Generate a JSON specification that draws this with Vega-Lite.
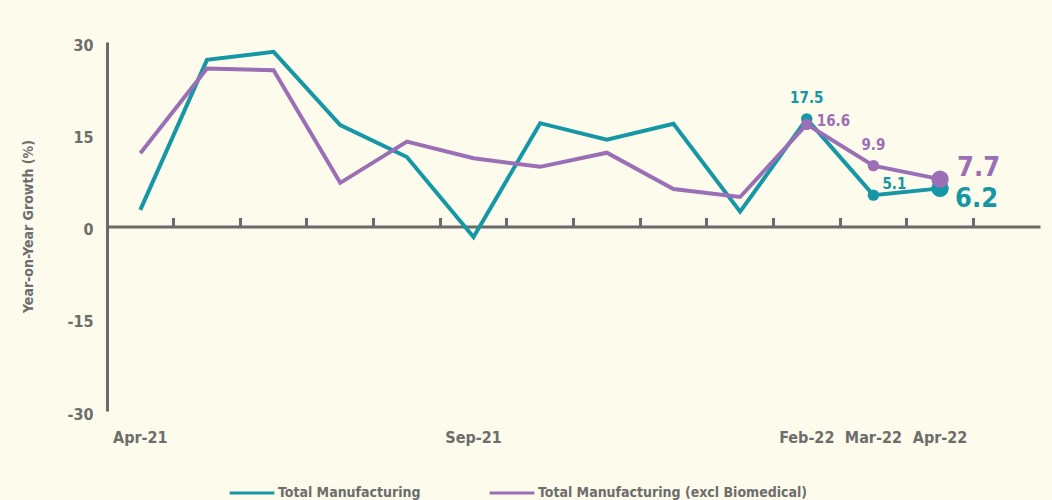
{
  "$schema": "https://vega.github.io/schema/vega-lite/v6.json",
  "width": 933,
  "height": 369,
  "autosize": "none",
  "padding": {"left": 107, "top": 42, "right": 12, "bottom": 89},
  "background": "#fdfbeb",
  "config": {
    "view": {"stroke": null},
    "font": "DejaVu Sans Condensed, Liberation Sans Narrow, sans-serif"
  },
  "data": {
    "values": [
      {"month": "Apr-21", "series": "Total Manufacturing", "value": 2.7},
      {"month": "May-21", "series": "Total Manufacturing", "value": 27.1},
      {"month": "Jun-21", "series": "Total Manufacturing", "value": 28.4},
      {"month": "Jul-21", "series": "Total Manufacturing", "value": 16.5},
      {"month": "Aug-21", "series": "Total Manufacturing", "value": 11.3},
      {"month": "Sep-21", "series": "Total Manufacturing", "value": -1.7},
      {"month": "Oct-21", "series": "Total Manufacturing", "value": 16.8},
      {"month": "Nov-21", "series": "Total Manufacturing", "value": 14.1},
      {"month": "Dec-21", "series": "Total Manufacturing", "value": 16.7},
      {"month": "Jan-22", "series": "Total Manufacturing", "value": 2.4},
      {"month": "Feb-22", "series": "Total Manufacturing", "value": 17.5},
      {"month": "Mar-22", "series": "Total Manufacturing", "value": 5.1},
      {"month": "Apr-22", "series": "Total Manufacturing", "value": 6.2},
      {"month": "Apr-21", "series": "Total Manufacturing (excl Biomedical)", "value": 11.9},
      {"month": "May-21", "series": "Total Manufacturing (excl Biomedical)", "value": 25.7},
      {"month": "Jun-21", "series": "Total Manufacturing (excl Biomedical)", "value": 25.4},
      {"month": "Jul-21", "series": "Total Manufacturing (excl Biomedical)", "value": 7.1},
      {"month": "Aug-21", "series": "Total Manufacturing (excl Biomedical)", "value": 13.8},
      {"month": "Sep-21", "series": "Total Manufacturing (excl Biomedical)", "value": 11.1},
      {"month": "Oct-21", "series": "Total Manufacturing (excl Biomedical)", "value": 9.7},
      {"month": "Nov-21", "series": "Total Manufacturing (excl Biomedical)", "value": 12.0},
      {"month": "Dec-21", "series": "Total Manufacturing (excl Biomedical)", "value": 6.1},
      {"month": "Jan-22", "series": "Total Manufacturing (excl Biomedical)", "value": 4.8},
      {"month": "Feb-22", "series": "Total Manufacturing (excl Biomedical)", "value": 16.6},
      {"month": "Mar-22", "series": "Total Manufacturing (excl Biomedical)", "value": 9.9},
      {"month": "Apr-22", "series": "Total Manufacturing (excl Biomedical)", "value": 7.7}
    ]
  },
  "encoding": {
    "y": {
      "field": "value",
      "type": "quantitative",
      "scale": {"domain": [-30, 30], "nice": false, "zero": false},
      "axis": {
        "values": [-30, -15, 0, 15, 30],
        "labelExpr": "'' + datum.value",
        "grid": false,
        "ticks": false,
        "domainColor": "#6a6a6a",
        "domainWidth": 3,
        "labelFont": "DejaVu Sans Condensed, Liberation Sans Narrow, sans-serif",
        "labelFontSize": 16,
        "labelFontWeight": "bold",
        "labelColor": "#6d6d6d",
        "labelPadding": 14,
        "labelBaseline": "middle",
        "labelOffset": 3,
        "title": "Year-on-Year Growth (%)",
        "titleFont": "DejaVu Sans Condensed, Liberation Sans Narrow, sans-serif",
        "titleFontSize": 14,
        "titleFontWeight": "bold",
        "titleColor": "#6d6d6d",
        "titleX": -72,
        "titleY": 184,
        "titleAnchor": "middle"
      }
    },
    "color": {
      "field": "series",
      "type": "nominal",
      "scale": {
        "domain": ["Total Manufacturing", "Total Manufacturing (excl Biomedical)"],
        "range": ["#1597a6", "#9b6fb5"]
      },
      "legend": null
    }
  },
  "layer": [
    {
      "mark": {"type": "line", "strokeWidth": 4},
      "encoding": {
        "x": {
          "field": "month",
          "type": "ordinal",
          "scale": {
            "type": "band",
            "paddingInner": 0,
            "paddingOuter": 0,
            "domain": ["Apr-21", "May-21", "Jun-21", "Jul-21", "Aug-21", "Sep-21", "Oct-21", "Nov-21", "Dec-21", "Jan-22", "Feb-22", "Mar-22", "Apr-22", "May-22"]
          },
          "axis": {
            "orient": "bottom",
            "offset": -184.5,
            "title": null,
            "labels": false,
            "bandPosition": 0,
            "ticks": true,
            "tickSize": -9,
            "tickWidth": 3,
            "tickColor": "#6a6a6a",
            "domainColor": "#6a6a6a",
            "domainWidth": 3,
            "grid": false
          }
        },
        "color": {
          "field": "series",
          "type": "nominal",
          "legend": {
            "orient": "none",
            "legendX": 121,
            "legendY": 427,
            "direction": "horizontal",
            "title": null,
            "symbolType": "stroke",
            "symbolStrokeWidth": 3,
            "symbolSize": 2000,
            "columnPadding": 62,
            "labelFont": "DejaVu Sans Condensed, Liberation Sans Narrow, sans-serif",
            "labelFontSize": 14,
            "labelFontWeight": "bold",
            "labelColor": "#6d6d6d",
            "labelOffset": 2,
            "labelLimit": 400
          }
        }
      }
    },
    {
      "transform": [{"filter": "datum.month == 'Feb-22' || datum.month == 'Mar-22'"}],
      "mark": {"type": "circle", "size": 130, "opacity": 1},
      "encoding": {
        "x": {
          "field": "month",
          "type": "ordinal",
          "axis": {
            "orient": "bottom",
            "title": null,
            "domain": false,
            "ticks": false,
            "grid": false,
            "labelPadding": 18,
            "labelFont": "DejaVu Sans Condensed, Liberation Sans Narrow, sans-serif",
            "labelFontSize": 16,
            "labelFontWeight": "bold",
            "labelColor": "#6d6d6d",
            "labelAngle": 0,
            "labelExpr": "indexof(['Apr-21','Sep-21','Feb-22','Mar-22','Apr-22'], datum.value) >= 0 ? datum.value : ''"
          }
        }
      }
    },
    {
      "transform": [{"filter": "datum.month == 'Apr-22'"}],
      "mark": {"type": "circle", "size": 300, "opacity": 1},
      "encoding": {"x": {"field": "month", "type": "ordinal", "axis": null}}
    },
    {
      "transform": [{"filter": "datum.month == 'Feb-22' && datum.series == 'Total Manufacturing'"}],
      "mark": {"type": "text", "fontSize": 15, "fontWeight": "bold", "dy": -21, "align": "center", "baseline": "middle"},
      "encoding": {"x": {"field": "month", "type": "ordinal", "axis": null}, "text": {"field": "value", "format": ".1f"}}
    },
    {
      "transform": [{"filter": "datum.month == 'Feb-22' && datum.series != 'Total Manufacturing'"}],
      "mark": {"type": "text", "fontSize": 15, "fontWeight": "bold", "dx": 10, "dy": -3, "align": "left", "baseline": "middle"},
      "encoding": {"x": {"field": "month", "type": "ordinal", "axis": null}, "text": {"field": "value", "format": ".1f"}}
    },
    {
      "transform": [{"filter": "datum.month == 'Mar-22' && datum.series != 'Total Manufacturing'"}],
      "mark": {"type": "text", "fontSize": 15, "fontWeight": "bold", "dy": -21, "align": "center", "baseline": "middle"},
      "encoding": {"x": {"field": "month", "type": "ordinal", "axis": null}, "text": {"field": "value", "format": ".1f"}}
    },
    {
      "transform": [{"filter": "datum.month == 'Mar-22' && datum.series == 'Total Manufacturing'"}],
      "mark": {"type": "text", "fontSize": 15, "fontWeight": "bold", "dx": 9, "dy": -11, "align": "left", "baseline": "middle"},
      "encoding": {"x": {"field": "month", "type": "ordinal", "axis": null}, "text": {"field": "value", "format": ".1f"}}
    },
    {
      "transform": [{"filter": "datum.month == 'Apr-22' && datum.series != 'Total Manufacturing'"}],
      "mark": {"type": "text", "fontSize": 27, "fontWeight": "bold", "dx": 17, "dy": -11, "align": "left", "baseline": "middle"},
      "encoding": {"x": {"field": "month", "type": "ordinal", "axis": null}, "text": {"field": "value", "format": ".1f"}}
    },
    {
      "transform": [{"filter": "datum.month == 'Apr-22' && datum.series == 'Total Manufacturing'"}],
      "mark": {"type": "text", "fontSize": 27, "fontWeight": "bold", "dx": 15, "dy": 11, "align": "left", "baseline": "middle"},
      "encoding": {"x": {"field": "month", "type": "ordinal", "axis": null}, "text": {"field": "value", "format": ".1f"}}
    }
  ],
  "resolve": {"axis": {"x": "independent"}}
}
